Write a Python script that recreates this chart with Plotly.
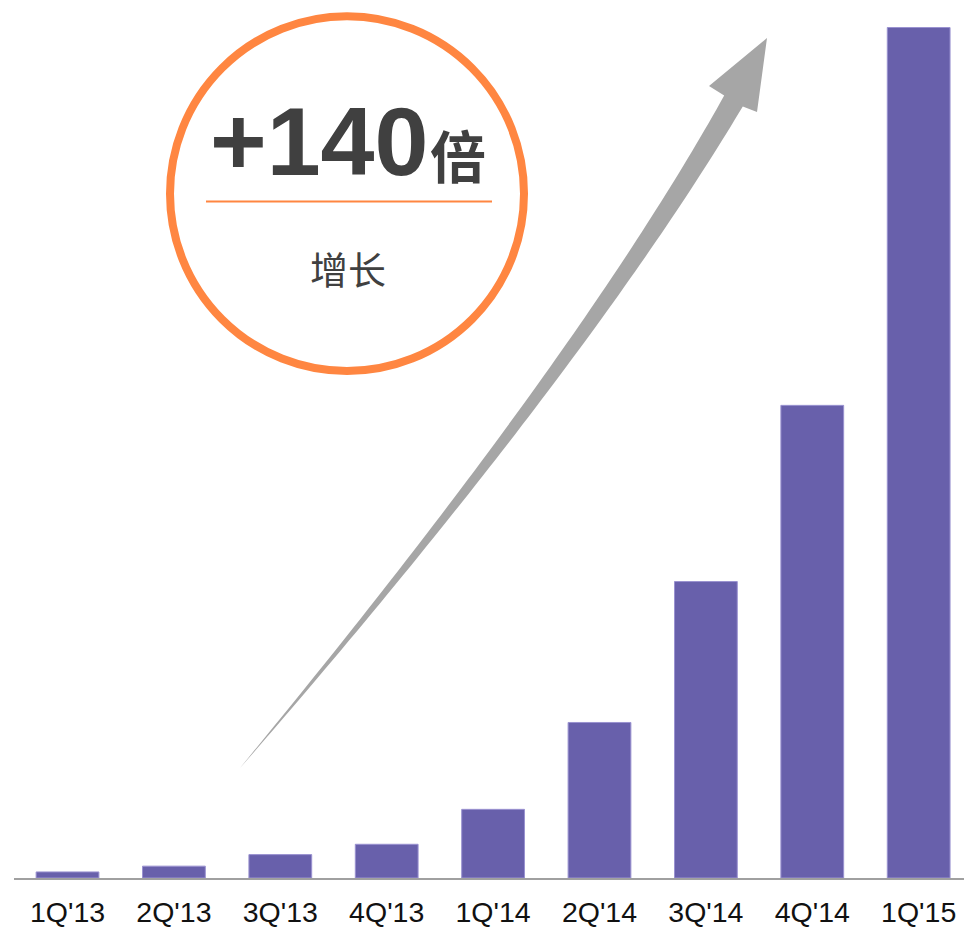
import numpy as np
import plotly.graph_objects as go

# Quarterly volume, indexed so that 1Q'13 = 1 (1Q'15 = 140x)
quarters = ["1Q'13", "2Q'13", "3Q'13", "4Q'13", "1Q'14", "2Q'14", "3Q'14", "4Q'14", "1Q'15"]
growth = [1.0, 1.95, 3.85, 5.55, 11.3, 25.6, 48.8, 77.8, 140.0]

headline = "+140"
headline_unit = "倍"
subtitle = "增长"

W, H = 964, 927
M_L, M_R, M_T, M_B = 14, 0, 0, 49
PW, PH = W - M_L - M_R, H - M_T - M_B

BAR = "#6860AB"
ORANGE = "#FF8641"
GREY = "#A6A6A6"
INK = "#404040"


def px(x):
    """horizontal pixel -> paper coordinate"""
    return (x - M_L) / PW


def py(y):
    """vertical pixel (from top) -> paper coordinate"""
    return (H - M_B - y) / PH


fig = go.Figure(
    go.Bar(
        x=quarters,
        y=growth,
        marker=dict(color=BAR, line=dict(color="#9A92D0", width=1)),
        hoverinfo="x+y",
    )
)

# Curved, tapering growth arrow (quadratic Bezier centreline)
p0 = np.array([240.0, 768.0])
p1 = np.array([580.5, 366.0])
p2 = np.array([733.5, 101.0])
t = np.linspace(0, 1, 80)[:, None]
centre = (1 - t) ** 2 * p0 + 2 * t * (1 - t) * p1 + t ** 2 * p2
deriv = 2 * (1 - t) * (p1 - p0) + 2 * t * (p2 - p1)
tangent = deriv / np.linalg.norm(deriv, axis=1, keepdims=True)
normal = np.column_stack([-tangent[:, 1], tangent[:, 0]])
half = 0.5 * 21.5 * t[:, 0] ** 0.85
left = centre + normal * half[:, None]
right = centre - normal * half[:, None]
if left[-1, 0] > right[-1, 0]:
    left, right = right, left
head = [(709, 86), (767, 38), (757, 112)]
outline = list(map(tuple, left)) + head + list(map(tuple, right[::-1]))
path = "M " + " L ".join(f"{px(x):.5f},{py(y):.5f}" for x, y in outline) + " Z"

shapes = [
    dict(type="path", xref="paper", yref="paper", path=path,
         fillcolor=GREY, line=dict(width=0)),
    dict(type="circle", xref="paper", yref="paper",
         x0=px(170), x1=px(524), y0=py(371), y1=py(16.3),
         line=dict(color=ORANGE, width=8), fillcolor="rgba(0,0,0,0)"),
    dict(type="line", xref="paper", yref="paper",
         x0=px(206), x1=px(492), y0=py(201.5), y1=py(201.5),
         line=dict(color=ORANGE, width=2)),
]

annotations = [
    dict(text=f"<b>{headline}</b>", xref="paper", yref="paper",
         x=px(319), y=py(141), xanchor="center", yanchor="middle", showarrow=False,
         font=dict(family="Liberation Sans, Arial, sans-serif", size=97, color=INK)),
    dict(text=f"<b>{headline_unit}</b>", xref="paper", yref="paper",
         x=px(458), y=py(153), xanchor="center", yanchor="middle", showarrow=False,
         font=dict(family="Noto Sans CJK SC, sans-serif", size=56, color=INK)),
    dict(text=subtitle, xref="paper", yref="paper",
         x=px(348), y=py(267), xanchor="center", yanchor="middle", showarrow=False,
         font=dict(family="Noto Sans CJK SC, sans-serif", size=38, color=INK)),
]

fig.update_layout(
    width=W, height=H,
    margin=dict(l=M_L, r=M_R, t=M_T, b=M_B),
    paper_bgcolor="white", plot_bgcolor="white",
    bargap=0.41,
    showlegend=False,
    shapes=shapes,
    annotations=annotations,
    xaxis=dict(
        type="category", range=[-0.503, 8.426],
        showline=True, linecolor="#A0A0A0", linewidth=2,
        showgrid=False, ticks="", zeroline=False, ticklabelstandoff=8,
        tickfont=dict(family="Liberation Sans, Arial, sans-serif", size=28.5, color="#111111"),
    ),
    yaxis=dict(range=[0, PH / 6.075], visible=False, showgrid=False, zeroline=False),
)

fig.write_html("out.html")
